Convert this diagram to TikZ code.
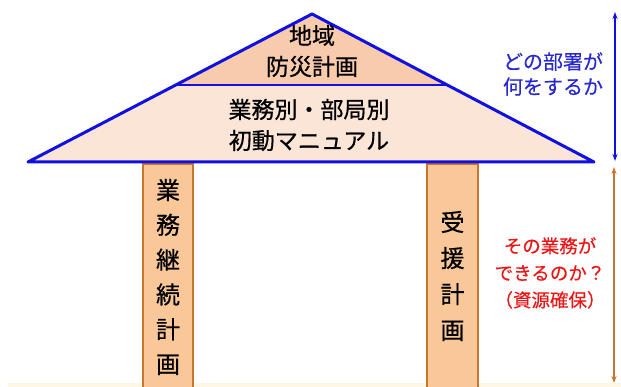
\documentclass[tikz,border=0pt]{standalone}
\usepackage{fontspec}
\newfontfamily\jp[FakeBold=0.6]{Noto Sans CJK JP}
\newfontfamily\jpl[FakeBold=0.3]{Noto Sans CJK JP}
\usetikzlibrary{arrows.meta}
\definecolor{roofblue}{RGB}{16,16,225}
\definecolor{topfill}{RGB}{248,203,173}
\definecolor{midfill}{RGB}{251,229,214}
\definecolor{pillarfill}{RGB}{250,200,152}
\definecolor{pillarline}{RGB}{200,118,45}
\definecolor{txtblue}{RGB}{40,40,210}
\definecolor{txtred}{RGB}{238,20,20}
\definecolor{strip}{RGB}{255,247,230}
\tikzset{
  roof/.style={draw=roofblue,line width=3pt,line join=round},
  pillar/.style={draw=pillarline,fill=pillarfill,line width=2pt},
  rooftext/.style={font=\jp\fontsize{23}{31}\selectfont,text=black,align=center,inner sep=0pt},
  pillartext/.style={font=\jp\fontsize{24}{34.8}\selectfont,text=black,align=center,inner sep=0pt},
  bluetext/.style={font=\jpl\fontsize{20}{25}\selectfont,text=txtblue,align=center,inner sep=0pt},
  redtext/.style={font=\jpl\fontsize{18.5}{27}\selectfont,text=txtred,align=center,inner sep=0pt},
  bluearrow/.style={draw=roofblue,line width=2pt,{Stealth[length=7pt,width=5pt]}-{Stealth[length=7pt,width=5pt]}},
  brownarrow/.style={draw=pillarline,line width=1.6pt,{Stealth[length=7pt,width=5pt]}-{Stealth[length=7pt,width=5pt]}},
}
\begin{document}
\begin{tikzpicture}[x=1pt,y=-1pt]
\useasboundingbox[fill=white] (0,0) rectangle (621,387);
% bottom strip
\fill[strip] (8,383) rectangle (621,387);
% roof coordinates
\coordinate (apex) at (312,14);
\coordinate (il) at (176,85);
\coordinate (ir) at (447,85);
\coordinate (bl) at (28,162);
\coordinate (br) at (594,162);
% pillars
\node[pillar,minimum width=50pt,minimum height=226pt,inner sep=0pt,anchor=north] (lp) at (168,163) {};
\node[pillar,minimum width=51pt,minimum height=226pt,inner sep=0pt,anchor=north] (rp) at (452.5,163) {};
% roof
\fill[midfill] (il) -- (ir) -- (br) -- (bl) -- cycle;
\fill[topfill] (apex) -- (ir) -- (il) -- cycle;
\draw[roof] (apex) -- (br) -- (bl) -- cycle;
\draw[roof,line width=2.5pt] (il) -- (ir);
% roof texts
\node[rooftext] (t1) at (312,51) {地域\\防災計画};
\node[rooftext] (t2) at (309,125) {業務別・部局別\\初動マニュアル};
% pillar texts
\node[pillartext] (lpt) at (168,277) {業\\務\\継\\続\\計\\画};
\node[pillartext,font=\jp\fontsize{24}{36}\selectfont] (rpt) at (452.5,276) {受\\援\\計\\画};
% annotations
\node[bluetext] (bt) at (553,74) {どの部署が\\何をするか};
\node[redtext] (rt) at (550,273) {その業務が\\できるのか？\\（資源確保）};
% arrows
\coordinate (a1) at (615,12);
\coordinate (a2) at (615,161);
\coordinate (b1) at (614,167);
\coordinate (b2) at (614,383);
\draw[bluearrow] (a1) -- (a2);
\draw[brownarrow] (b1) -- (b2);
\end{tikzpicture}
\end{document}
